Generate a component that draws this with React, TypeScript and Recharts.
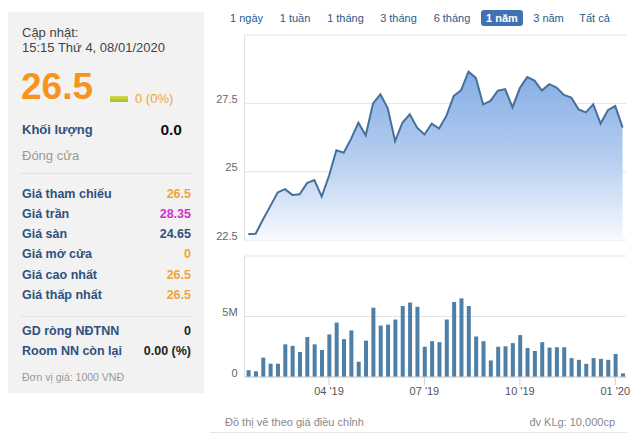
import React from 'react';
import { AreaChart, Area, BarChart, Bar, XAxis, YAxis, CartesianGrid } from 'recharts';

// Tuần giao dịch (thứ 4) từ 16/01/2019 đến 08/01/2020
const weeks = [
  '2019-01-16', '2019-01-23', '2019-01-30', '2019-02-06', '2019-02-13', '2019-02-20', '2019-02-27',
  '2019-03-06', '2019-03-13', '2019-03-20', '2019-03-27', '2019-04-03', '2019-04-10', '2019-04-17',
  '2019-04-24', '2019-05-01', '2019-05-08', '2019-05-15', '2019-05-22', '2019-05-29', '2019-06-05',
  '2019-06-12', '2019-06-19', '2019-06-26', '2019-07-03', '2019-07-10', '2019-07-17', '2019-07-24',
  '2019-07-31', '2019-08-07', '2019-08-14', '2019-08-21', '2019-08-28', '2019-09-04', '2019-09-11',
  '2019-09-18', '2019-09-25', '2019-10-02', '2019-10-09', '2019-10-16', '2019-10-23', '2019-10-30',
  '2019-11-06', '2019-11-13', '2019-11-20', '2019-11-27', '2019-12-04', '2019-12-11', '2019-12-18',
  '2019-12-25', '2020-01-01', '2020-01-08',
];

// Giá đóng cửa (nghìn đồng)
const prices = [
  22.72, 22.73, 23.25, 23.74, 24.24, 24.36, 24.15, 24.17, 24.58, 24.69,
  24.09, 24.85, 25.78, 25.69, 26.2, 26.79, 26.33, 27.5, 27.83, 27.32,
  26.12, 26.79, 27.1, 26.61, 26.36, 26.76, 26.58, 27.05, 27.77, 27.98,
  28.66, 28.43, 27.46, 27.59, 27.96, 28.02, 27.35, 28.06, 28.46, 28.33,
  27.97, 28.2, 28.08, 27.81, 27.71, 27.28, 27.17, 27.46, 26.76, 27.25,
  27.4, 26.61,
];

// Khối lượng (triệu cp)
const volumes = [
  0.56, 0.47, 1.6, 1.1, 1.1, 2.7, 2.57, 2.07, 3.3, 2.7,
  2.23, 3.52, 4.5, 3.13, 3.85, 1.26, 3.0, 5.73, 4.25, 4.33,
  4.75, 5.87, 6.15, 5.8, 2.5, 2.96, 2.88, 4.75, 6.2, 6.5,
  5.87, 3.35, 2.96, 1.37, 2.5, 2.54, 2.8, 3.46, 2.4, 2.15,
  2.88, 2.43, 2.46, 2.46, 1.56, 1.42, 1.09, 1.56, 1.5, 1.42,
  1.9, 0.3,
];

const xTicks = ['2019-04-03', '2019-07-03', '2019-10-02', '2020-01-01'];
const priceTicks = [22.5, 25, 27.5, 30];
const volTicks = [0, 5, 10];
const tabs = ['1 ngày', '1 tuần', '1 tháng', '3 tháng', '6 tháng', '1 năm', '3 năm', 'Tất cả'];
const tabCenters = [246.5, 295, 345.5, 398.5, 452, 502, 548.5, 594.5];

const priceData = weeks.map((d, i) => ({ date: d, price: prices[i] }));
const volData = weeks.map((d, i) => ({ date: d, vol: volumes[i] }));

const FONT = "'Liberation Sans', Arial, sans-serif";
const NAVY = '#30507f';
const ORANGE = '#f0a43a';

const fmtMonth = (d: string) => `${d.slice(5, 7)} '${d.slice(2, 4)}`;

// nhãn trục Y, nằm hơi cao hơn đường lưới; bỏ nhãn trên cùng
const YTick = ({ x, y, payload, top, fmt }: any) => {
  if (payload.value === top) return null;
  return (
    <text x={x} y={y - 4.5} textAnchor="end" dominantBaseline="central" fontSize={11} fill="#666" fontFamily={FONT}>
      {fmt ? fmt(payload.value) : payload.value}
    </text>
  );
};

const Row = ({ y, label, value, color, labelColor = NAVY, size = 12.5 }: any) => (
  <>
    <div style={{ position: 'absolute', left: 22, top: y - 9, lineHeight: '18px', fontSize: size, fontWeight: 'bold', color: labelColor }}>{label}</div>
    <div style={{ position: 'absolute', right: 640 - 191, top: y - 9, lineHeight: '18px', fontSize: size, fontWeight: 'bold', color }}>{value}</div>
  </>
);

export default function App() {
  return (
    <div style={{ position: 'absolute', left: 0, top: 0, width: 640, height: 437, background: '#fff', fontFamily: FONT, overflow: 'hidden' }}>
      {/* bảng thông tin bên trái */}
      <div style={{ position: 'absolute', left: 8, top: 12, width: 196, height: 381, background: '#f2f2f2' }} />
      <div style={{ position: 'absolute', left: 22, top: 25, lineHeight: '15px', fontSize: 13, color: '#444' }}>
        Cập nhật:<br />15:15 Thứ 4, 08/01/2020
      </div>
      <div style={{ position: 'absolute', left: 21, top: 67, lineHeight: '40px', fontSize: 37, fontWeight: 'bold', color: '#f7941d' }}>26.5</div>
      <div style={{ position: 'absolute', left: 110, top: 96, width: 18, height: 6, background: 'linear-gradient(#d6d84a, #a9bb2a)' }} />
      <div style={{ position: 'absolute', left: 135, top: 91, lineHeight: '16px', fontSize: 13, color: ORANGE }}>0 (0%)</div>
      <div style={{ position: 'absolute', left: 22, top: 121, lineHeight: '18px', fontSize: 13, fontWeight: 'bold', color: NAVY }}>Khối lượng</div>
      <div style={{ position: 'absolute', right: 640 - 182, top: 120, lineHeight: '20px', fontSize: 15.5, fontWeight: 'bold', color: '#111' }}>0.0</div>
      <div style={{ position: 'absolute', left: 22, top: 148, lineHeight: '16px', fontSize: 13, color: '#999' }}>Đóng cửa</div>
      <div style={{ position: 'absolute', left: 20, top: 173, width: 172, height: 1, background: '#e2e2e2' }} />
      <Row y={194} label="Giá tham chiếu" value="26.5" color={ORANGE} />
      <Row y={214} label="Giá trần" value="28.35" color="#cc33cc" />
      <Row y={234} label="Giá sàn" value="24.65" color={NAVY} />
      <Row y={254} label="Giá mở cửa" value="0" color={ORANGE} />
      <Row y={275} label="Giá cao nhất" value="26.5" color={ORANGE} />
      <Row y={295} label="Giá thấp nhất" value="26.5" color={ORANGE} />
      <div style={{ position: 'absolute', left: 20, top: 316, width: 172, height: 1, background: '#e2e2e2' }} />
      <Row y={331} label="GD ròng NĐTNN" value="0" color="#222" />
      <Row y={351} label="Room NN còn lại" value="0.00 (%)" color="#222" />
      <div style={{ position: 'absolute', left: 22, top: 370, lineHeight: '14px', fontSize: 10.5, color: '#999' }}>Đơn vị giá: 1000 VNĐ</div>

      {/* các nút khoảng thời gian */}
      <div style={{ position: 'absolute', left: 481, top: 10, width: 42, height: 16, borderRadius: 3, background: '#3f72b3' }} />
      {tabs.map((t, i) => (
        <div key={t} style={{
          position: 'absolute', left: tabCenters[i] - 30, width: 60, textAlign: 'center', top: 10, lineHeight: '16px',
          fontSize: 11, color: i === 5 ? '#fff' : '#2c5a8c', fontWeight: i === 5 ? 'bold' : 'normal',
        }}>{t}</div>
      ))}

      {/* biểu đồ giá */}
      <div style={{ position: 'absolute', left: 210, top: 25 }}>
        <AreaChart width={430} height={225} data={priceData} margin={{ top: 10, right: 13.7, bottom: 10, left: 0 }}>
          <defs>
            <linearGradient id="priceFill" x1="0" y1="0" x2="0" y2="1">
              <stop offset="0%" stopColor="#84ade5" stopOpacity={1} />
              <stop offset="55%" stopColor="#b9d0f0" stopOpacity={1} />
              <stop offset="100%" stopColor="#f7faff" stopOpacity={1} />
            </linearGradient>
          </defs>
          <CartesianGrid vertical={false} stroke="#e3e3e3" />
          <XAxis dataKey="date" hide padding={{ left: 3.7, right: 3.7 }} />
          <YAxis width={34.6} domain={[22.5, 30]} ticks={priceTicks} tickSize={5} tickLine={false}
            axisLine={{ stroke: '#e0e0e0' }} tick={<YTick top={30} />} />
          <Area type="linear" dataKey="price" stroke="#46709a" strokeWidth={2} fill="url(#priceFill)" fillOpacity={1}
            dot={false} activeDot={false} isAnimationActive={false} />
        </AreaChart>
      </div>

      {/* biểu đồ khối lượng */}
      <div style={{ position: 'absolute', left: 210, top: 250 }}>
        <BarChart width={430} height={160} data={volData} margin={{ top: 6, right: 13.7, bottom: 0, left: 0 }} barCategoryGap={0}>
          <CartesianGrid vertical={false} stroke="#e3e3e3" />
          <XAxis dataKey="date" ticks={xTicks} interval={0} tickFormatter={fmtMonth} height={33} tickSize={8}
            axisLine={{ stroke: '#d0d0d0' }} tickLine={{ stroke: '#d0d0d0' }}
            tick={{ fontSize: 11, fill: '#555', fontFamily: FONT }} />
          <YAxis width={34.6} domain={[0, 10]} ticks={volTicks} tickSize={5} tickLine={false}
            axisLine={{ stroke: '#e0e0e0' }} tick={<YTick top={10} fmt={(v: number) => (v === 0 ? '0' : `${v}M`)} />} />
          <Bar dataKey="vol" fill="#4e7fa6" barSize={4} isAnimationActive={false} />
        </BarChart>
      </div>

      <div style={{ position: 'absolute', left: 225, top: 415, lineHeight: '14px', fontSize: 11, color: '#888' }}>Đồ thị vẽ theo giá điều chỉnh</div>
      <div style={{ position: 'absolute', right: 640 - 615, top: 415, lineHeight: '14px', fontSize: 11, color: '#888' }}>đv KLg: 10,000cp</div>
      <div style={{ position: 'absolute', left: 210, top: 432, width: 417, height: 1, background: '#e6e6e6' }} />
    </div>
  );
}
